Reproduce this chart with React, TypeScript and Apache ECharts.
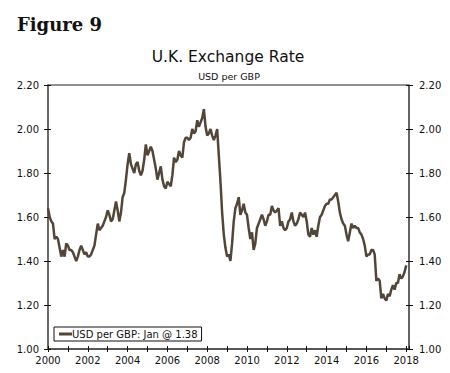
import React, { useEffect, useRef } from "react";
import * as echarts from "echarts";

const startYear = 2000;
// Monthly USD per GBP, Jan 2000 .. Jan 2018
const monthlyRate: number[] = [
  // 2000
  1.64, 1.6, 1.58, 1.57, 1.5, 1.51, 1.5, 1.46, 1.42, 1.45, 1.42, 1.48,
  // 2001
  1.47, 1.45, 1.45, 1.44, 1.42, 1.4, 1.42, 1.45, 1.47, 1.45, 1.43, 1.44,
  // 2002
  1.42, 1.42, 1.43, 1.45, 1.47, 1.52, 1.57, 1.54, 1.55, 1.56, 1.58, 1.6,
  // 2003
  1.63, 1.61, 1.58, 1.59, 1.63, 1.67, 1.63, 1.58, 1.62, 1.69, 1.71, 1.77,
  // 2004
  1.84, 1.89, 1.84, 1.82, 1.8, 1.84, 1.85, 1.81, 1.79, 1.81, 1.86, 1.93,
  // 2005
  1.88, 1.9, 1.92, 1.9, 1.86, 1.82, 1.77, 1.8, 1.83, 1.77, 1.74, 1.73,
  // 2006
  1.76, 1.75, 1.74, 1.79, 1.87, 1.85, 1.86, 1.9, 1.88, 1.87, 1.94, 1.96,
  // 2007
  1.96, 1.95, 1.96, 2.0, 1.98, 1.99, 2.04, 2.01, 2.03, 2.05, 2.09, 2.01,
  // 2008
  1.97, 1.98, 2.0, 1.97, 1.95, 1.97, 2.0, 1.88, 1.76, 1.62, 1.52, 1.46,
  // 2009
  1.42, 1.43, 1.4, 1.48, 1.58, 1.64, 1.66, 1.69, 1.61, 1.63, 1.66, 1.62,
  // 2010
  1.61, 1.55, 1.5, 1.53, 1.45, 1.48, 1.55, 1.57, 1.59, 1.61, 1.59, 1.56,
  // 2011
  1.58, 1.61, 1.61, 1.65, 1.63, 1.62, 1.63, 1.64, 1.56, 1.58, 1.55, 1.54,
  // 2012
  1.55, 1.58, 1.59, 1.62, 1.58, 1.56, 1.57, 1.59, 1.62, 1.61, 1.6, 1.62,
  // 2013
  1.58, 1.52, 1.51, 1.55, 1.52, 1.54, 1.51, 1.56, 1.6, 1.61, 1.63, 1.65,
  // 2014
  1.66, 1.66, 1.68, 1.68, 1.69, 1.7, 1.71, 1.67, 1.62, 1.59, 1.57, 1.56,
  // 2015
  1.52, 1.49, 1.53, 1.57, 1.55, 1.56, 1.55, 1.55, 1.53, 1.52, 1.5, 1.47,
  // 2016
  1.42, 1.43, 1.43, 1.45, 1.45, 1.43, 1.31, 1.32, 1.31, 1.23, 1.25, 1.23,
  // 2017
  1.22, 1.25, 1.24, 1.27, 1.29, 1.27, 1.3, 1.3, 1.34, 1.32, 1.33, 1.35,
  // 2018
  1.38,
];

const xTickLabels = ["2000", "2002", "2004", "2006", "2008", "2010", "2012", "2014", "2016", "2018"];
const yTickLabels = ["1.00", "1.20", "1.40", "1.60", "1.80", "2.00", "2.20"];
const legendName = "USD per GBP: Jan @ 1.38";

const FONT = "DejaVu Sans";
const LINE = "#524639";
const AXIS = "#444";

export default function App() {
  const ref = useRef<HTMLDivElement>(null);
  useEffect(() => {
    if (!ref.current) return;
    const chart = echarts.init(ref.current, undefined, { renderer: "svg" });
    const data = monthlyRate.map((v, i) => [startYear + i / 12, v]);
    const xFmt = (v: number) => {
      const r = Math.round(v);
      if (Math.abs(v - r) > 1e-6) return "";
      const s = String(r);
      return xTickLabels.includes(s) ? s : "";
    };
    const yFmt = (v: number) => {
      const s = v.toFixed(2);
      return yTickLabels.includes(s) ? s : "";
    };
    const xBase = {
      type: "value",
      min: 2000,
      max: 2018.14,
      interval: 1,
      position: "bottom",
      splitLine: { show: false },
    };
    const yBase = {
      type: "value",
      min: 1,
      max: 2.2,
      interval: 0.2,
      splitLine: { show: false },
    };
    chart.setOption({
      animation: false,
      backgroundColor: "#fff",
      graphic: [
        {
          type: "text",
          left: 17,
          top: 15,
          style: { text: "Figure 9", font: `bold 18px "DejaVu Serif"`, fill: "#111" },
        },
        {
          type: "text",
          x: 228,
          y: 49,
          style: {
            text: "U.K. Exchange Rate",
            fontFamily: FONT,
            fontSize: 15.5,
            fill: "#111",
            align: "center",
            verticalAlign: "top",
          },
        },
        {
          type: "text",
          x: 229,
          y: 71,
          style: {
            text: "USD per GBP",
            fontFamily: FONT,
            fontSize: 9.5,
            fill: "#111",
            align: "center",
            verticalAlign: "top",
          },
        },
      ],
      grid: {
        left: 48,
        right: 41,
        top: 85,
        bottom: 24,
        show: true,
        borderColor: "#222",
        borderWidth: 1,
        backgroundColor: "transparent",
      },
      legend: {
        left: 54,
        top: 327,
        data: [{ name: legendName, icon: "rect" }],
        itemWidth: 13,
        itemHeight: 3,
        itemGap: 0,
        padding: [2, 4, 2, 5],
        borderColor: "#111",
        borderWidth: 1,
        backgroundColor: "#fff",
        itemStyle: { color: LINE, borderWidth: 0 },
        textStyle: { fontFamily: FONT, fontSize: 10, color: "#111", padding: [0, 0, 0, -5] },
      },
      xAxis: [
        {
          ...xBase,
          axisLine: { show: true, lineStyle: { color: AXIS, width: 1.5 } },
          axisTick: { show: true, inside: false, length: 3, lineStyle: { color: "#111" } },
          axisLabel: {
            formatter: xFmt,
            fontFamily: FONT,
            fontSize: 10,
            color: "#111",
            margin: 6,
            showMaxLabel: false,
          },
        },
        {
          ...xBase,
          axisLine: { show: false },
          axisTick: { show: true, inside: true, length: 3, lineStyle: { color: "#111" } },
          axisLabel: { show: false },
        },
      ],
      yAxis: [
        {
          ...yBase,
          position: "left",
          axisLine: { show: true, lineStyle: { color: "#6a6a6a", width: 2 } },
          axisTick: { show: true, inside: false, length: 4, lineStyle: { color: "#111" } },
          axisLabel: { formatter: yFmt, fontFamily: FONT, fontSize: 10, color: "#111", margin: 9 },
        },
        {
          ...yBase,
          position: "right",
          axisLine: { show: true, lineStyle: { color: "#555", width: 1.5 } },
          axisTick: { show: true, inside: false, length: 4, lineStyle: { color: "#111" } },
          axisLabel: { formatter: yFmt, fontFamily: FONT, fontSize: 10, color: "#111", margin: 10 },
        },
        {
          ...yBase,
          position: "left",
          axisLine: { show: false },
          axisTick: { show: true, inside: true, length: 3, lineStyle: { color: "#111" } },
          axisLabel: { show: false },
        },
        {
          ...yBase,
          position: "right",
          axisLine: { show: false },
          axisTick: { show: true, inside: true, length: 3, lineStyle: { color: "#111" } },
          axisLabel: { show: false },
        },
      ],
      series: [
        {
          name: legendName,
          type: "line",
          data,
          xAxisIndex: 0,
          yAxisIndex: 0,
          symbol: "none",
          lineStyle: { color: LINE, width: 2.5 },
          itemStyle: { color: LINE },
        },
      ],
    });
    return () => chart.dispose();
  }, []);
  return <div ref={ref} style={{ width: 450, height: 373, position: "absolute", left: 0, top: 0 }} />;
}
